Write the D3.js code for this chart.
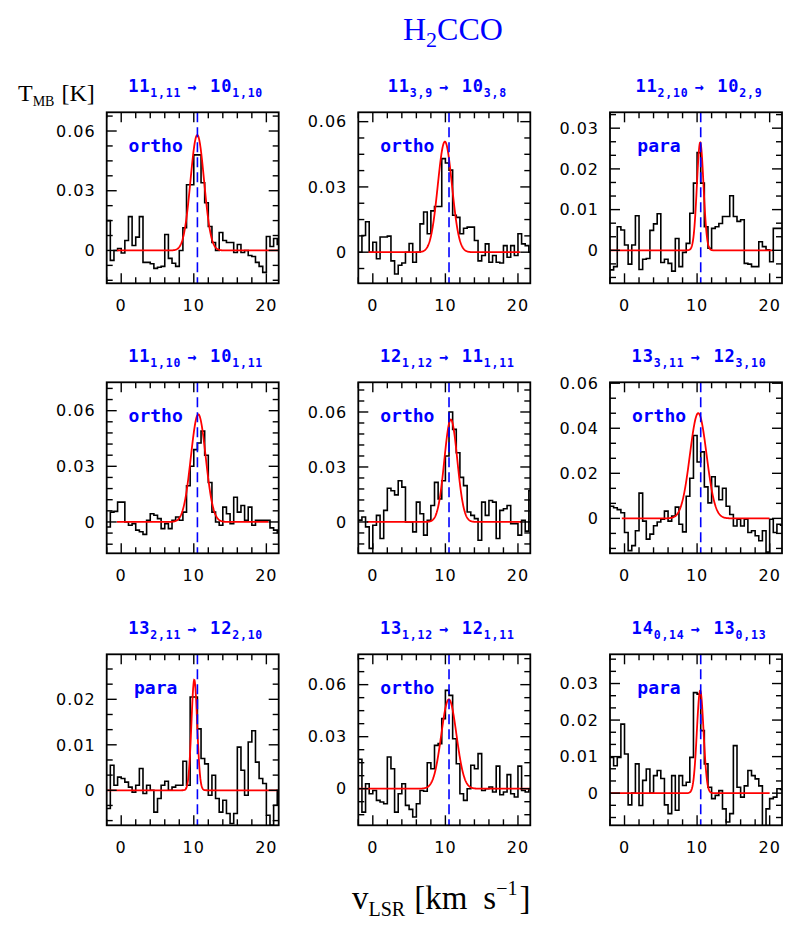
<!DOCTYPE html>
<html><head><meta charset="utf-8">
<script src="https://cdn.jsdelivr.net/npm/d3@7"></script>
<style>body{margin:0;background:#fff}</style>
</head><body><svg id="c" width="800" height="933"></svg>
<script>
// ---------------- DATA ----------------
const chanStart = -2, chanWidth = 0.5;   // km/s, channel grid of the spectra
const vSys = 10.5;                         // dashed systemic velocity line
const xDomain = [-2, 21.7];
const xMajorTicks = [0, 10, 20];
const xMinorStep = 2;

const upperJ = ["11","11","11","11","12","13","13","13","14"];
const upperK = ["1,11","3,9","2,10","1,10","1,12","3,11","2,11","1,12","0,14"];
const lowerJ = ["10","10","10","10","11","12","12","12","13"];
const lowerK = ["1,10","3,8","2,9","1,11","1,11","3,10","2,10","1,11","0,13"];
const species = ["ortho","ortho","para","ortho","ortho","ortho","para","ortho","para"];

const yMin = [-0.0165,-0.0143,-0.0081,-0.0169,-0.0171,-0.0155,-0.0077,-0.0211,-0.0088];
const yMax = [ 0.0694, 0.0643, 0.0339, 0.0753, 0.0762, 0.0604, 0.0299, 0.0775, 0.0380];
const yMajorStep = [0.03,0.03,0.01,0.03,0.03,0.02,0.01,0.03,0.01];
const yMinorPerMajor = [4,4,3,5,5,3,3,4,3];

const fitAmp    = [0.058,0.0508,0.0265,0.058,0.0559,0.0467,0.0243,0.0515,0.0281];
const fitCenter = [10.48,9.93,10.43,10.62,10.75,10.16,10.07,10.48,10.43];
const fitFWHM   = [2.2,2.3,1.07,2.4,2.1,2.7,0.93,2.46,1.08];
const fitFrom   = [-0.6,-0.6,-2,-0.6,-0.8,-0.37,-2,-2,-2];
const fitTo     = [21.7,20.3,20.5,20.3,20.5,20.0,21.5,21.7,20.0];

const spec1 = [0.015,-0.005,0.0,0.001,-0.0013,0.005,0.017,0.0025,0.0067,0.017,
  -0.006,-0.006,-0.0067,-0.009,-0.0084,-0.008,0.008,-0.004,-0.0064,-0.008,
  0.0,0.0114,0.033,0.033,0.048,0.048,0.034,0.024,0.012,0.004,
  0.0,0.009,0.005,0.004,0.004,-0.001,0.003,-0.001,0.0,-0.0025,
  -0.003,-0.006,-0.008,-0.011,0.007,0.002,0.006,0.003];
const spec2 = [0.0,0.0077,0.014,0.0,0.0046,-0.003,0.007,0.007,0.0074,-0.004,
  -0.010,-0.006,-0.005,0.0,0.004,-0.0046,0.0,0.013,0.0185,0.0085,
  0.019,0.021,0.021,0.043,0.041,0.0377,0.017,0.016,0.0085,0.011,
  0.0115,0.0115,0.0054,-0.004,-0.0015,0.0038,-0.0046,-0.0015,-0.0046,-0.005,
  0.003,-0.0023,0.003,-0.0015,0.0085,0.0038,0.003,0.0];
const spec3 = [-0.0048,-0.004,0.0058,0.005,0.0013,-0.0034,0.0013,0.0085,-0.0047,-0.0022,
  -0.002,0.0049,0.0065,0.009,-0.003,-0.0022,-0.0032,-0.0051,0.0029,-0.004,
  -0.0005,0.0017,0.0091,0.0165,0.024,0.0165,0.0058,0.0005,0.0054,0.0058,
  0.0066,0.0083,0.0083,0.0134,0.0083,0.0071,0.0075,-0.0032,-0.0034,-0.004,
  -0.004,0.0021,0.0009,0.0001,-0.0028,0.0054,0.0054,0.0054];
const spec4 = [-0.0027,0.0053,0.0057,0.0107,0.0107,0.0,-0.0018,-0.0009,-0.0044,-0.0053,
  -0.0067,0.0009,0.0044,0.0036,0.0018,-0.0036,-0.0009,-0.0036,0.0009,0.0027,
  0.0009,0.0053,0.0195,0.030,0.039,0.0426,0.049,0.036,0.0213,0.0053,
  0.0,-0.0018,0.008,0.0044,-0.0009,0.0133,0.0053,0.0089,0.0009,0.008,
  -0.0018,0.0009,0.0009,0.0009,0.0009,-0.0032,-0.0044,-0.0057];
const spec5 = [0.001,0.0027,-0.0027,-0.0144,-0.0018,0.0036,-0.009,0.0063,0.0184,0.017,
  0.0148,0.0225,0.019,0.0,0.0,-0.0054,0.0108,0.0045,-0.0072,0.0009,
  0.009,0.0216,0.0126,0.0225,0.036,0.060,0.0505,0.0378,0.0243,0.0198,
  0.0054,0.0036,0.0018,-0.01,0.0108,0.0036,0.0117,0.0108,-0.009,0.0063,
  0.0072,0.009,-0.0009,-0.0009,-0.0072,0.0009,-0.005,0.017];
const spec6 = [0.0054,0.0047,0.0039,0.0025,-0.0063,-0.0143,-0.0121,-0.0055,0.0112,-0.0012,
  -0.0092,-0.007,-0.0033,-0.0016,-0.0004,0.0032,-0.0012,0.001,0.005,-0.0026,
  -0.006,0.0098,0.0178,0.0368,0.025,0.0295,0.014,0.0069,0.0185,0.0142,
  0.0083,0.0134,0.0054,0.0017,-0.0034,-0.0004,-0.0034,-0.0004,-0.0063,-0.0055,
  -0.0077,-0.0099,-0.0055,-0.015,-0.0004,-0.0063,-0.0026,-0.003];
const spec7 = [-0.004,0.0055,0.0011,0.0029,0.0026,0.0018,0.0007,-0.0004,0.0011,0.0048,
  -0.0007,0.0011,0.0,-0.0048,-0.0018,0.0011,0.002,0.0,0.0007,0.0011,
  0.0011,0.0064,0.0011,0.0205,0.0205,0.0135,0.007,0.0058,-0.0011,0.0033,
  -0.0018,-0.0048,-0.0022,-0.0051,-0.0073,-0.0051,0.0095,0.0044,-0.0011,0.0106,
  0.0131,0.0062,0.0026,0.0015,-0.0055,-0.0077,-0.0033,0.0];
const spec8 = [0.017,-0.0135,0.0029,-0.0029,-0.001,-0.0067,-0.0077,-0.0087,0.0183,0.0115,
  -0.0135,-0.0029,0.0029,-0.0096,-0.0119,-0.0163,-0.0087,-0.001,-0.0015,0.015,
  0.0115,0.025,0.026,0.0404,0.0567,0.0538,0.0288,0.0144,-0.0029,-0.0067,
  0.0,0.0135,0.0115,0.0202,-0.001,0.0,0.001,-0.0019,0.013,-0.0035,
  -0.0019,0.0081,-0.0029,-0.0048,0.013,-0.001,-0.0019,0.0];
const spec9 = [0.0098,0.0075,0.0098,0.0189,0.0107,-0.0032,0.0,0.008,-0.0034,0.0035,
  0.0066,0.0,0.0048,0.0062,0.004,-0.0032,-0.0056,0.0048,-0.0047,0.0048,
  0.0021,0.003,0.0098,0.0275,0.0271,0.0171,0.008,0.0016,-0.0015,-0.0006,
  0.0007,-0.0043,-0.0079,-0.0056,0.013,0.0016,-0.0011,0.002,0.0062,0.0048,
  0.0039,0.002,-0.0093,-0.0043,-0.0015,-0.0011,0.0012,0.001];
const spectra = [spec1,spec2,spec3,spec4,spec5,spec6,spec7,spec8,spec9];

// ---------------- LAYOUT ----------------
const colLeft = [106.7, 358.3, 610];
const rowTop = [112.3, 382.3, 654.3];
const PW = 172, PH = 171;
const BLUE = "#0000ff";
const svg = d3.select("#c");

function ticksFor(min, max, step) {
  return d3.range(Math.ceil(min/step - 1e-9), Math.floor(max/step + 1e-9) + 1).map(k => k*step);
}

spectra.forEach((spec, i) => {
  const left = colLeft[i % 3], top = rowTop[Math.floor(i / 3)];
  const x = d3.scaleLinear().domain(xDomain).range([left, left + PW]);
  const y = d3.scaleLinear().domain([yMin[i], yMax[i]]).range([top + PH, top]);
  const g = svg.append("g");

  const clipId = "clip" + i;
  svg.append("clipPath").attr("id", clipId).append("rect")
    .attr("x", left).attr("y", top).attr("width", PW).attr("height", PH);
  const inner = g.append("g").attr("clip-path", `url(#${clipId})`);

  // histogram
  const pts = spec.map((v, k) => [chanStart + k*chanWidth, v]);
  pts.push([chanStart + spec.length*chanWidth, spec[spec.length-1]]);
  inner.append("path").datum(pts)
    .attr("d", d3.line().x(d => x(d[0])).y(d => y(d[1])).curve(d3.curveStepAfter))
    .attr("fill", "none").attr("stroke", "#000").attr("stroke-width", 1.6);

  // gaussian fit
  const fv = d3.range(fitFrom[i], fitTo[i] + 1e-9, 0.05);
  const gauss = v => fitAmp[i] * Math.exp(-4*Math.LN2*Math.pow(v - fitCenter[i], 2)/Math.pow(fitFWHM[i], 2));
  inner.append("path").datum(fv)
    .attr("d", d3.line().x(v => x(v)).y(v => y(gauss(v))))
    .attr("fill", "none").attr("stroke", "#ff0000").attr("stroke-width", 1.8);

  // dashed systemic velocity
  inner.append("line").attr("x1", x(vSys)).attr("x2", x(vSys))
    .attr("y1", top).attr("y2", top + PH)
    .attr("stroke", BLUE).attr("stroke-width", 1.6).attr("stroke-dasharray", "10,5");

  // frame
  g.append("rect").attr("x", left).attr("y", top).attr("width", PW).attr("height", PH)
    .attr("fill", "none").attr("stroke", "#000").attr("stroke-width", 1.8);

  const tk = g.append("g").attr("stroke", "#000").attr("stroke-width", 1.4);
  // x ticks
  ticksFor(xDomain[0], xDomain[1], xMinorStep).forEach(v => {
    const len = xMajorTicks.includes(v) ? 10 : 6;
    tk.append("line").attr("x1", x(v)).attr("x2", x(v)).attr("y1", top + PH).attr("y2", top + PH - len);
    tk.append("line").attr("x1", x(v)).attr("x2", x(v)).attr("y1", top).attr("y2", top + len);
  });
  // y ticks
  const minorStep = yMajorStep[i] / yMinorPerMajor[i];
  const majors = ticksFor(yMin[i], yMax[i], yMajorStep[i]);
  ticksFor(yMin[i], yMax[i], minorStep).forEach(v => {
    const isMajor = majors.some(m => Math.abs(m - v) < 1e-9);
    const len = isMajor ? 10 : 6;
    tk.append("line").attr("x1", left).attr("x2", left + len).attr("y1", y(v)).attr("y2", y(v));
    tk.append("line").attr("x1", left + PW).attr("x2", left + PW - len).attr("y1", y(v)).attr("y2", y(v));
  });

  // tick labels
  const lab = g.append("g").attr("font-family", "DejaVu Sans").attr("font-size", 16)
    .attr("letter-spacing", 1).attr("fill", "#000");
  xMajorTicks.forEach(v => {
    lab.append("text").attr("x", x(v)).attr("y", top + PH + 28).attr("text-anchor", "middle").text(v);
  });
  majors.forEach(v => {
    lab.append("text").attr("x", left - 11).attr("y", y(v)).attr("dy", "0.36em")
      .attr("text-anchor", "end").text(Math.abs(v) < 1e-12 ? "0" : d3.format(".2f")(v));
  });

  // transition title
  const t = g.append("text").attr("x", left + PW/2 + 3).attr("y", top - 20.5)
    .attr("text-anchor", "middle").attr("font-family", "DejaVu Sans Mono")
    .attr("font-weight", "bold").attr("font-size", 17).attr("fill", BLUE).attr("letter-spacing", 0.8);
  t.append("tspan").text(upperJ[i]);
  t.append("tspan").attr("dy", 5).attr("font-size", 11.5).text(upperK[i]);
  t.append("tspan").attr("dy", -5).attr("dx", 6).attr("font-size", 15).text("→");
  t.append("tspan").attr("dx", 13).text(lowerJ[i]);
  t.append("tspan").attr("dy", 5).attr("font-size", 11.5).text(lowerK[i]);

  // ortho / para
  g.append("text").attr("x", left + 49).attr("y", top + 40).attr("text-anchor", "middle")
    .attr("font-family", "DejaVu Sans Mono").attr("font-weight", "bold").attr("font-size", 18)
    .attr("fill", BLUE).text(species[i]);
});

// main title
const mt = svg.append("text").attr("x", 403).attr("y", 40)
  .attr("font-family", "Liberation Serif").attr("font-size", 32).attr("fill", BLUE);
mt.append("tspan").text("H");
mt.append("tspan").attr("dy", 7).attr("font-size", 22).text("2");
mt.append("tspan").attr("dy", -7).text("CCO");

// y axis title
const yt = svg.append("text").attr("x", 18).attr("y", 101)
  .attr("font-family", "Liberation Serif").attr("font-size", 24).attr("fill", "#000");
yt.append("tspan").text("T");
yt.append("tspan").attr("dy", 5).attr("font-size", 14).text("MB");
yt.append("tspan").attr("dy", -5).attr("dx", 7).text("[K]");

// x axis title
const xt = svg.append("text").attr("x", 352).attr("y", 909)
  .attr("font-family", "Liberation Serif").attr("font-size", 33).attr("fill", "#000");
xt.append("tspan").text("v");
xt.append("tspan").attr("dy", 7).attr("font-size", 20).text("LSR");
xt.append("tspan").attr("dy", -7).attr("dx", 9).text("[km");
xt.append("tspan").attr("dx", 16).text("s");
xt.append("tspan").attr("dy", -14).attr("font-size", 20).text("−1");
xt.append("tspan").attr("dy", 14).attr("dx", 2).text("]");
</script></body></html>
